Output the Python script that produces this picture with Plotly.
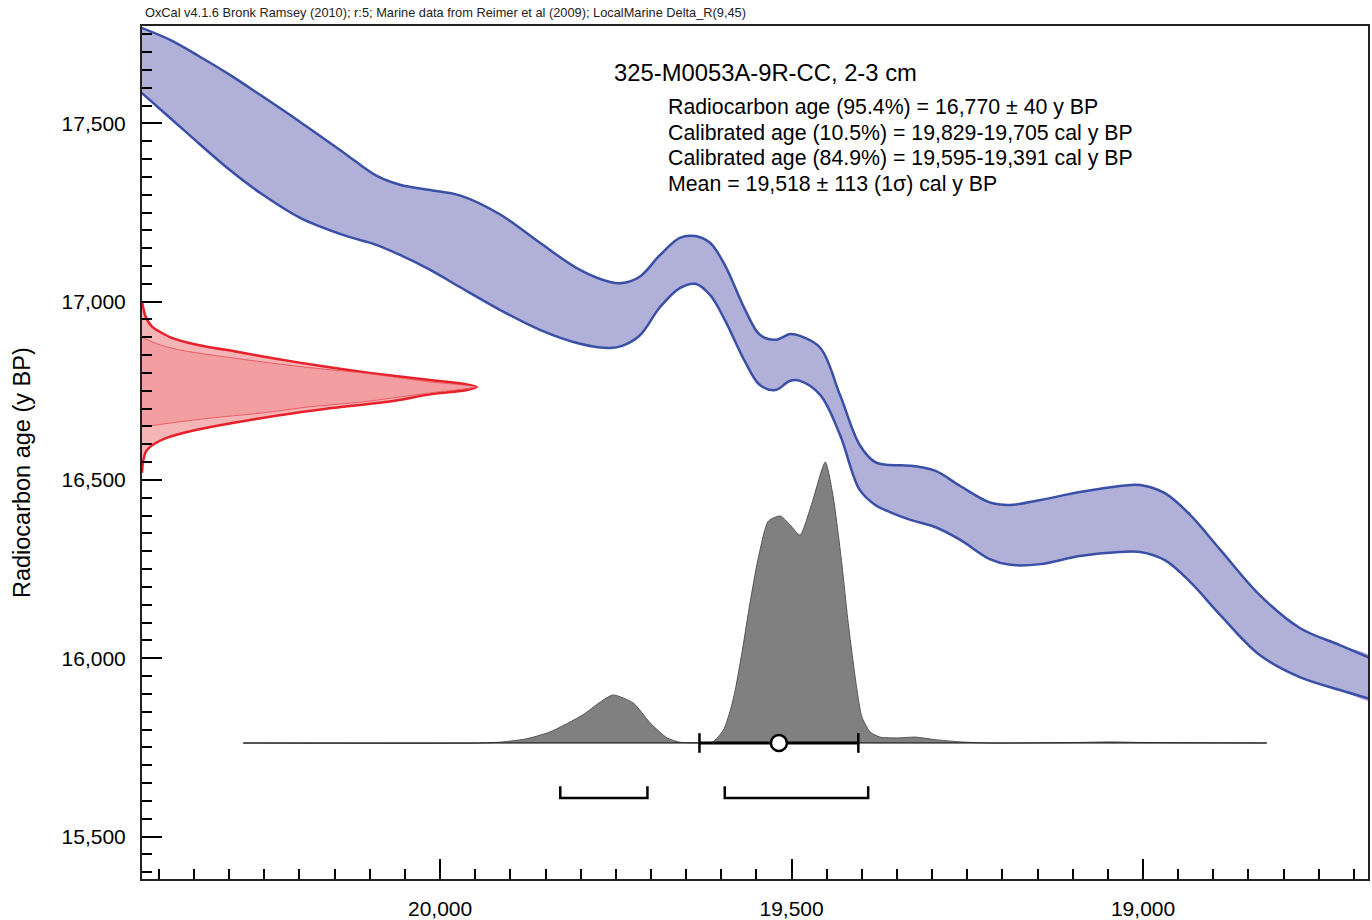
import plotly.graph_objects as go

# ---- Marine calibration curve: upper / lower edges of the 1-sigma band ----
curve_cal = [20430, 20384, 20341, 20299, 20256, 20199, 20135, 20092, 20057, 20014,
             19972, 19915, 19858, 19801, 19758, 19741, 19716, 19687, 19659, 19637,
             19616, 19595, 19566, 19545, 19523, 19502, 19488, 19459, 19431, 19403,
             19381, 19360, 19331, 19296, 19260, 19218, 19189, 19146, 19090, 19033,
             19004, 18969, 18933, 18890, 18834, 18777, 18720, 18670]
curve_upper = [17772, 17734, 17686, 17636, 17580, 17504, 17415, 17355, 17328, 17313,
               17298, 17245, 17165, 17089, 17055, 17052, 17070, 17131, 17179, 17184,
               17165, 17103, 16977, 16907, 16893, 16909, 16904, 16870, 16738, 16598,
               16550, 16542, 16540, 16526, 16483, 16437, 16430, 16444, 16466, 16483,
               16486, 16463, 16402, 16304, 16177, 16085, 16037, 15995]
curve_lower = [17595, 17515, 17440, 17369, 17305, 17235, 17185, 17160, 17131, 17089,
               17041, 16977, 16921, 16882, 16870, 16876, 16905, 16985, 17038, 17050,
               17019, 16949, 16831, 16766, 16752, 16778, 16778, 16738, 16626, 16472,
               16430, 16410, 16388, 16368, 16332, 16278, 16262, 16264, 16287, 16298,
               16298, 16275, 16214, 16121, 16009, 15947, 15911, 15882]

# ---- Radiocarbon measurement (relative probability along the 14C axis) ----
c14_age = [17000, 16960, 16930, 16900, 16880, 16860, 16840, 16820, 16800, 16780,
           16768, 16761, 16752, 16740, 16720, 16700, 16680, 16660, 16640, 16620,
           16600, 16580, 16550, 16520]
c14_prob = [0.0, 0.01, 0.03, 0.085, 0.16, 0.28, 0.40, 0.53, 0.68, 0.86,
            0.97, 1.0, 0.97, 0.86, 0.74, 0.55, 0.40, 0.27, 0.16, 0.08,
            0.035, 0.012, 0.003, 0.0]
c14_inner_age = [16900, 16880, 16865, 16850, 16831, 16815, 16800, 16775, 16761,
                 16744, 16719, 16705, 16688, 16675, 16663, 16655, 16649]
c14_inner_prob = [0.0, 0.05, 0.11, 0.21, 0.36, 0.50, 0.66, 0.86, 1.0,
                  0.86, 0.66, 0.50, 0.36, 0.22, 0.11, 0.05, 0.0]

# ---- Calibrated date (relative probability along the cal BP axis) ----
cal_bp = [20280, 19945, 19915, 19879, 19844, 19797, 19772, 19754, 19725, 19701,
          19677, 19659, 19630, 19612, 19597, 19587, 19580, 19570, 19559, 19548,
          19533, 19516, 19502, 19488, 19471, 19452, 19441, 19429, 19420, 19413,
          19407, 19400, 19388, 19374, 19350, 19324, 19296, 19260, 19218, 19090,
          19047, 19004, 18824]
cal_prob = [0.0, 0.0, 0.003, 0.014, 0.039, 0.10, 0.146, 0.171, 0.142, 0.071,
            0.018, 0.003, 0.001, 0.004, 0.046, 0.117, 0.19, 0.33, 0.50, 0.65,
            0.79, 0.808, 0.776, 0.74, 0.854, 1.0, 0.88, 0.65, 0.44, 0.30,
            0.19, 0.093, 0.039, 0.021, 0.018, 0.021, 0.012, 0.004, 0.0, 0.002,
            0.004, 0.002, 0.0]

# ---- Summary statistics ----
range_from = [19829, 19595]
range_to = [19705, 19391]
cal_mean = 19518
cal_sigma = 113

BLUE_LINE = "#3a50a6"
BLUE_FILL = "#b0b0d8"
RED = "#e8202a"
FONT = "Liberation Sans, Arial, Helvetica, sans-serif"

fig = go.Figure()

# calibration band
fig.add_trace(go.Scatter(
    x=curve_cal + curve_cal[::-1], y=curve_upper + curve_lower[::-1],
    fill="toself", fillcolor=BLUE_FILL, mode="lines",
    line=dict(width=0, shape="spline", smoothing=1.0), hoverinfo="skip"))
for edge in (curve_upper, curve_lower):
    fig.add_trace(go.Scatter(
        x=curve_cal, y=edge, mode="lines",
        line=dict(color=BLUE_LINE, width=2.5, shape="spline", smoothing=1.0),
        hoverinfo="skip"))

# radiocarbon measurement on the 14C axis
fig.add_trace(go.Scatter(
    x=c14_prob, y=c14_age, xaxis="x2", yaxis="y", fill="toself",
    fillcolor="#f5b4b6", mode="lines",
    line=dict(color=RED, width=2.5, shape="spline", smoothing=0.6),
    hoverinfo="skip"))
fig.add_trace(go.Scatter(
    x=c14_inner_prob, y=c14_inner_age, xaxis="x2", yaxis="y", fill="toself",
    fillcolor="#f39ea1", mode="lines",
    line=dict(color="rgba(232,60,70,0.7)", width=1, shape="spline", smoothing=0.6),
    hoverinfo="skip"))

# calibrated distribution
fig.add_trace(go.Scatter(
    x=cal_bp, y=cal_prob, xaxis="x", yaxis="y2", fill="tozeroy",
    fillcolor="#808080", mode="lines",
    line=dict(color="#555555", width=1, shape="spline", smoothing=0.6),
    hoverinfo="skip"))
fig.add_trace(go.Scatter(
    x=[cal_bp[0], cal_bp[-1]], y=[0, 0], xaxis="x", yaxis="y2", mode="lines",
    line=dict(color="black", width=1), hoverinfo="skip"))

# mean +/- sigma bar
fig.add_trace(go.Scatter(
    x=[cal_mean + cal_sigma, cal_mean - cal_sigma], y=[0, 0], xaxis="x", yaxis="y2",
    mode="lines+markers", line=dict(color="black", width=3),
    marker=dict(symbol="line-ns", size=14, line=dict(color="black", width=2.5)),
    hoverinfo="skip"))
fig.add_trace(go.Scatter(
    x=[cal_mean], y=[0], xaxis="x", yaxis="y2", mode="markers",
    marker=dict(symbol="circle", size=16, color="white",
                line=dict(color="black", width=2.5)),
    hoverinfo="skip"))

# highest probability ranges
for a, b in zip(range_from, range_to):
    fig.add_trace(go.Scatter(
        x=[a, a, b, b], y=[15641, 15608, 15608, 15641], mode="lines",
        line=dict(color="black", width=2.5), hoverinfo="skip"))

axis_common = dict(
    showline=True, linecolor="#222222", linewidth=2, mirror=True,
    ticks="inside", ticklen=20, tickwidth=2, tickcolor="black",
    showgrid=False, zeroline=False, tickformat=",", automargin=False,
    tickfont=dict(family=FONT, size=21, color="black"),
)

fig.update_layout(
    width=1372, height=920,
    margin=dict(l=142, r=4, t=26, b=41, autoexpand=False),
    paper_bgcolor="white", plot_bgcolor="white",
    showlegend=False,
    xaxis=dict(range=[20424, 18680], dtick=500, tick0=19000,
               minor=dict(dtick=50, ticklen=10, tickwidth=2, ticks="inside",
                          tickcolor="black"),
               ticklabelstandoff=10, **axis_common),
    yaxis=dict(range=[15381, 17773], dtick=500, tick0=15500,
               minor=dict(dtick=50, ticklen=10, tickwidth=2, ticks="inside",
                          tickcolor="black"),
               ticklabelstandoff=10, **axis_common),
    xaxis2=dict(overlaying="x", anchor="y", range=[0, 3.66], visible=False),
    yaxis2=dict(overlaying="y", anchor="x", range=[-0.484, 2.552], visible=False),
)

ann = []
ann.append(dict(text="OxCal v4.1.6 Bronk Ramsey (2010); r:5; Marine data from Reimer et al (2009); LocalMarine Delta_R(9,45)",
                x=0.001, y=1.0164, xref="paper", yref="paper", xanchor="left",
                yanchor="middle", showarrow=False,
                font=dict(family=FONT, size=12.8, color="#222222")))
ann.append(dict(text="325-M0053A-9R-CC, 2-3 cm", x=0.3834, y=0.946, xref="paper",
                yref="paper", xanchor="left", yanchor="middle", showarrow=False,
                font=dict(family=FONT, size=23.8, color="black")))
lines = ["Radiocarbon age (95.4%) = 16,770 ± 40 y BP",
         "Calibrated age (10.5%) = 19,829-19,705 cal y BP",
         "Calibrated age (84.9%) = 19,595-19,391 cal y BP",
         "Mean = 19,518 ± 113 (1σ) cal y BP"]
for i, t in enumerate(lines):
    ann.append(dict(text=t, x=0.4274, y=0.905 - i * 0.0301, xref="paper",
                    yref="paper", xanchor="left", yanchor="middle",
                    showarrow=False, font=dict(family=FONT, size=21.3, color="black")))
ann.append(dict(text="Radiocarbon age (y BP)", x=-0.0979, y=0.477, xref="paper",
                yref="paper", xanchor="center", yanchor="middle", textangle=-90,
                showarrow=False, font=dict(family=FONT, size=23.5, color="black")))
fig.update_layout(annotations=ann)

fig.write_html("out.html")
